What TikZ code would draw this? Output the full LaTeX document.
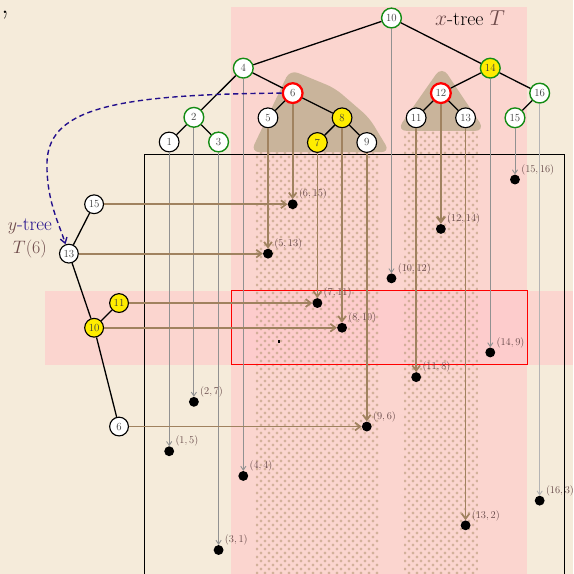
\documentclass[tikz,border=0pt]{standalone}
\usetikzlibrary{arrows.meta,patterns.meta}
\definecolor{bg}{RGB}{245,235,218}
\definecolor{pinkband}{RGB}{251,213,207}
\definecolor{pinkover}{RGB}{253,204,204}
\definecolor{hullc}{RGB}{201,180,155}
\definecolor{brownln}{RGB}{160,130,95}
\definecolor{crossc}{RGB}{190,158,128}
\definecolor{greyln}{RGB}{145,145,145}
\definecolor{greylt}{RGB}{180,180,180}
\definecolor{treegreen}{RGB}{20,140,20}
\definecolor{nodeyellow}{RGB}{255,236,0}
\definecolor{navyc}{RGB}{35,15,140}
\definecolor{mathbrown}{RGB}{110,75,75}
\definecolor{labelc}{RGB}{100,70,70}
\definecolor{nodetext}{RGB}{60,60,60}
\tikzdeclarepattern{
  name=plusgrid,
  type=uncolored,
  bottom left={(0pt,0pt)},
  top right={(9.2pt,9.2pt)},
  tile size={(9.2pt,9.2pt)},
  code={
    \tikzset{x=1pt,y=1pt}
    \draw[line width=1.05pt] (0.6,2.3) -- (4.0,2.3) (2.3,0.6) -- (2.3,4.0)
      (5.2,6.9) -- (8.6,6.9) (6.9,5.2) -- (6.9,8.6);
  }
}
\tikzset{
  tnode/.style={circle, draw=black, line width=1.3pt, fill=white, minimum size=0.8cm,
    inner sep=0pt, font=\fontsize{12.5}{12.5}\selectfont, text=nodetext},
  ynodes/.style={tnode, minimum size=0.76cm},
  gnode/.style={tnode, draw=treegreen, line width=1.6pt},
  rnode/.style={tnode, draw=red, line width=2.6pt},
  yel/.style={fill=nodeyellow},
  ptdot/.style={circle, fill=black, minimum size=0.4cm, inner sep=0pt},
  ptlabel/.style={anchor=west, inner sep=0pt, font=\fontsize{11.5}{13}\selectfont, text=labelc},
  greyarrow/.style={draw=greyln, line width=1pt, -{Straight Barb[length=4.5pt,width=6pt]}},
  brownarrow/.style={draw=brownln, line width=2pt, -{Straight Barb[length=6pt,width=9pt]}},
  treeedge/.style={draw=black, line width=1.5pt},
}
\begin{document}
\begin{tikzpicture}
\useasboundingbox (-5.85,0.03) rectangle (17.35,23.27);
\fill[bg] (-5.85,0.03) rectangle (17.35,23.27);
% bands
\fill[pinkband] (3.5,0.03) rectangle (15.5,22.98);
\fill[pinkband] (-4.03,8.5) rectangle (17.35,11.5);
\fill[pinkover] (3.5,8.5) rectangle (15.5,11.5);
% dotted strips
\fill[pattern=plusgrid, pattern color=crossc] (4.5,0.03) rectangle (9.5,17.2);
\fill[pattern=plusgrid, pattern color=crossc] (10.5,0.03) rectangle (13.5,18);
% hulls
\fill[hullc, rounded corners=10pt] (5.89,20.45) -- (4.3,17.11) -- (9.94,17.11) -- (9.1,18.5) -- (7.71,19.7) -- cycle;
\fill[hullc, rounded corners=12pt] (12.04,20.6) -- (10.2,17.97) -- (13.8,17.97) -- cycle;
% red rectangle and box
\draw[red, line width=0.7pt] (3.5,8.5) rectangle (15.5,11.5);
\draw[black, line width=1.3pt] (0,0) rectangle (17,17);
% comma and tiny mark
\node[anchor=base west, inner sep=0pt, font=\fontsize{34}{38}\selectfont] (cm) at (-5.8,22.72) {,};
\fill[black] (5.42,9.38) rectangle (5.48,9.5);
% points
\foreach \i/\px/\py in {1/1/5,2/2/7,3/3/1,4/4/4,5/5/13,6/6/15,7/7/11,8/8/10,9/9/6,10/10/12,11/11/8,12/12/14,13/13/2,14/14/9,15/15/16,16/16/3}{
  \node[ptdot] (p\i) at (\px,\py) {};
  \node[ptlabel] (l\i) at (\px+0.25,\py+0.4) {$(\px,\py)$};
}
% x-tree nodes
\node[gnode] (n10) at (10,22.54) {10};
\node[gnode] (n4) at (4,20.51) {4};
\node[gnode,yel] (n14) at (14,20.51) {14};
\node[rnode] (n6) at (6,19.5) {6};
\node[rnode] (n12) at (12,19.5) {12};
\node[gnode] (n16) at (16,19.5) {16};
\node[gnode] (n2) at (2,18.52) {2};
\node[tnode] (n5) at (5,18.5) {5};
\node[tnode,yel] (n8) at (8,18.5) {8};
\node[tnode] (n11) at (11,18.5) {11};
\node[tnode] (n13) at (13,18.5) {13};
\node[gnode] (n15) at (15,18.5) {15};
\node[tnode] (n1) at (1,17.52) {1};
\node[gnode] (n3) at (3,17.52) {3};
\node[tnode,yel] (n7) at (7,17.5) {7};
\node[tnode] (n9) at (9,17.5) {9};
% x-tree edges
\draw[treeedge] (n10) -- (n4) (n10) -- (n14) (n4) -- (n2) (n4) -- (n6)
  (n2) -- (n1) (n2) -- (n3) (n6) -- (n5) (n6) -- (n8) (n8) -- (n7) (n8) -- (n9)
  (n14) -- (n12) (n14) -- (n16) (n12) -- (n11) (n12) -- (n13) (n16) -- (n15);
% vertical lines
\foreach \i in {1,2,3,4,10,14,15}{ \draw[greyarrow] (n\i) -- (p\i); }
\draw[greyarrow, draw=greylt] (n16) -- (p16);
\foreach \i in {5,6,7,8,9,11,13}{ \draw[brownarrow] (n\i) -- (p\i); }
\draw[brownarrow, line width=2.8pt] (n12) -- (p12);
% y-tree
\node[ynodes] (y15) at (-2.04,15) {15};
\node[ynodes] (y13) at (-3.06,13) {13};
\node[ynodes,yel] (y11) at (-1.03,11) {11};
\node[ynodes,yel] (y10) at (-2.04,10) {10};
\node[ynodes] (y6) at (-1.03,6) {6};
\draw[treeedge] (y13) -- (y15) (y13) -- (y10) (y10) -- (y11) (y10) -- (y6);
\draw[brownarrow] (y15) -- (p6);
\draw[brownarrow] (y13) -- (p5);
\draw[brownarrow] (y11) -- (p7);
\draw[brownarrow] (y10) -- (p8);
\draw[brownarrow] (y6) -- (p9);
% dashed link
\draw[navyc, line width=1.6pt, dash pattern=on 6pt off 4pt, -{Straight Barb[length=6pt,width=8pt]}]
  (n6.west) .. controls (-1.5,19.45) and (-3.95,18.8) .. (-3.95,16.6)
  .. controls (-3.95,15.1) and (-3.45,14.2) .. (y13.110);
% titles
\node[font=\fontsize{23}{27}\selectfont] (xt) at (13.18,22.54) {$\color{mathbrown}x$-tree $\color{mathbrown}T$};
\node[align=center, font=\fontsize{22}{26}\selectfont, text=navyc] (yt) at (-4.64,13.62)
  {$\color{mathbrown}y$-tree\\ \color{mathbrown}$T(6)$};
\end{tikzpicture}
\end{document}
